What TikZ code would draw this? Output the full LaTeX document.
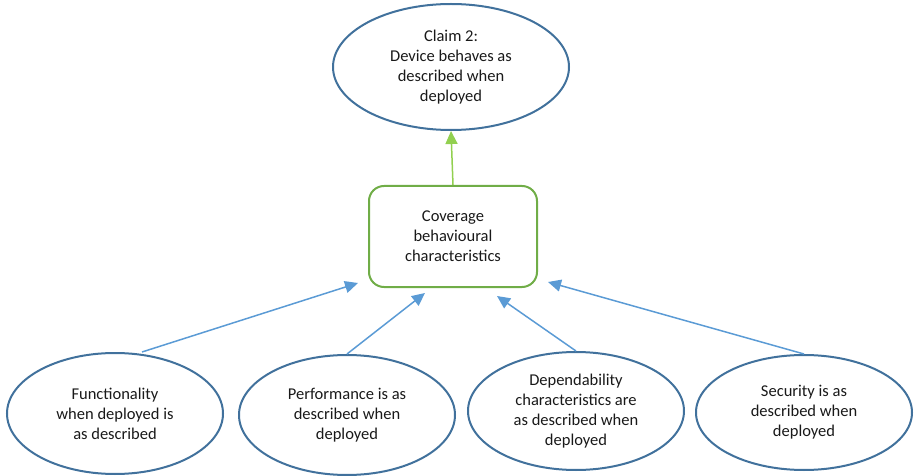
\documentclass[tikz,border=0pt]{standalone}
\usepackage{fontspec}
\setmainfont{Carlito}
\usetikzlibrary{shapes.geometric,arrows.meta}
\definecolor{ovalline}{HTML}{41719C}
\definecolor{linkblue}{HTML}{5B9BD5}
\definecolor{boxgreen}{HTML}{70AD47}
\definecolor{linkgreen}{HTML}{92D050}
\begin{document}
\begin{tikzpicture}[x=1pt,y=-1pt,
  claim/.style={ellipse,draw=ovalline,line width=2pt,inner sep=0pt,align=center,
    font=\fontsize{16.5}{20}\selectfont,text=black!90},
  topicbox/.style={rectangle,rounded corners=15pt,draw=boxgreen,line width=2pt,
    inner sep=0pt,align=center,font=\fontsize{16.5}{20}\selectfont,text=black!90},
  supports/.style={draw=linkblue,line width=1.5pt,-{Triangle[length=13pt,width=12pt]}},
  feeds/.style={draw=linkgreen,line width=1.5pt,-{Triangle[length=13pt,width=12pt]}}]
\useasboundingbox (0,0) rectangle (914,476);

% top-level claim
\node[claim,minimum width=236pt,minimum height=126pt] (claim) at (451,67)
  {Claim 2:\\Device behaves as\\described when\\deployed};

% intermediate box
\node[topicbox,minimum width=168pt,minimum height=101pt] (cov) at (453,236.5)
  {Coverage\\behavioural\\characteristics};

% supporting claims
\node[claim,minimum width=216pt,minimum height=121pt] (func) at (115,413.5)
  {Functionality\\when deployed is\\as described};
\node[claim,minimum width=216pt,minimum height=120pt] (perf) at (347,415)
  {Performance is as\\described when\\deployed};
\node[claim,minimum width=216pt,minimum height=118pt] (dep) at (576,411)
  {Dependability\\characteristics are\\as described when\\deployed};
\node[claim,minimum width=216pt,minimum height=115pt] (sec) at (804,412.5)
  {Security is as\\described when\\deployed};

% arrow targets below the box
\coordinate (t1) at (358,283);
\coordinate (t2) at (425,293);
\coordinate (t3) at (497,296);
\coordinate (t4) at (548,282);

\draw[feeds] (cov.north) -- (claim.south);
\draw[supports] ([xshift=27pt]func.north) -- (t1);
\draw[supports] (perf.north) -- (t2);
\draw[supports] (dep.north) -- (t3);
\draw[supports] (sec.north) -- (t4);
\end{tikzpicture}
\end{document}
